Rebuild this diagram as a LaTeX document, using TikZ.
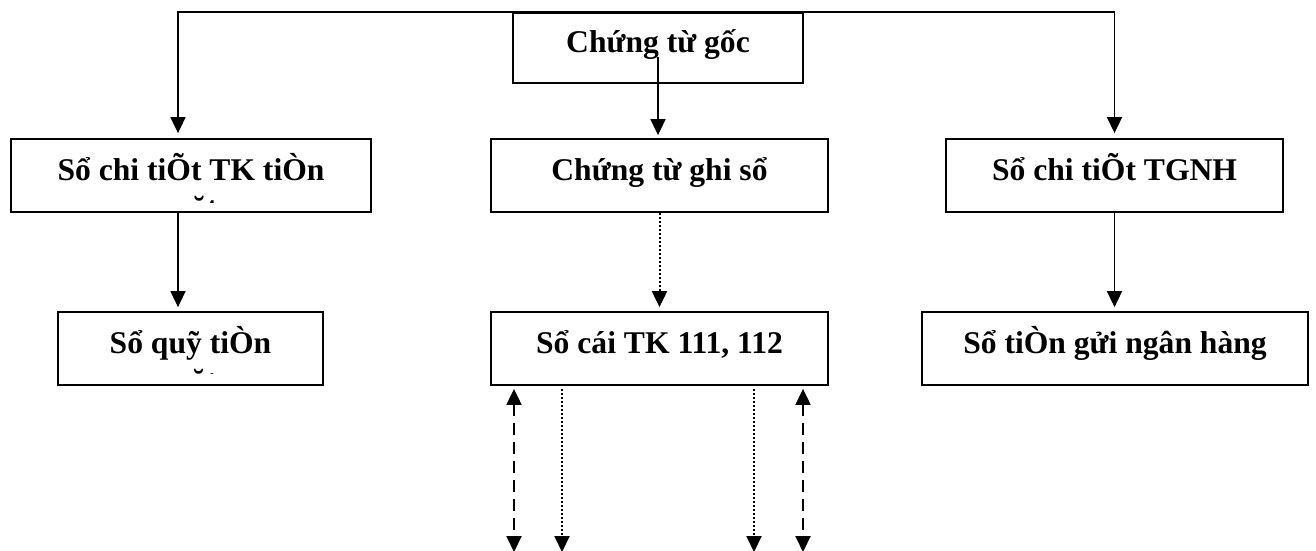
\documentclass[tikz,border=0pt]{standalone}
\usepackage{fontspec}
\setmainfont{Liberation Serif}
\usetikzlibrary{arrows.meta,positioning}

\begin{document}
\begin{tikzpicture}[x=1pt, y=-1pt, >={Triangle[width=15pt,length=16pt]},
  box/.style={draw, line width=1.8pt, inner sep=0pt, minimum height=73pt,
    text height=20pt, text depth=11pt,
    font=\fontsize{31.6}{38}\selectfont\bfseries},
  lbl/.style={anchor=base, inner sep=0pt, font=\fontsize{31.6}{38}\selectfont\bfseries},
  link/.style={->, line width=1.7pt},
  dots/.style={link, line width=2pt, dash pattern=on 2pt off 2pt},
  dashes/.style={<->, line width=2pt, dash pattern=on 12pt off 7pt}]
  \useasboundingbox (0,0) rectangle (1316,551);

  %% Boxes
  \node[box, minimum width=290pt, minimum height=70pt] (goc) at (658,48) {Chứng từ gốc};
  \node[box, minimum width=360pt] (tk)     at (191,175.5)   {Sổ chi tiÕt TK tiÒn};
  \node[box, minimum width=337pt] (ghiso)  at (659.5,175.5) {Chứng từ ghi sổ};
  \node[box, minimum width=337pt] (nh)     at (1114.5,175.5) {Sổ chi tiÕt TGNH};
  \node[box, minimum width=265pt] (quy)    at (190.5,348.5) {Sổ quỹ tiÒn};
  \node[box, minimum width=337pt] (socai)  at (659.5,348.5) {Sổ cái TK 111, 112};
  \node[box, minimum width=386pt] (tiengui) at (1115,348.5) {Sổ tiÒn gửi ngân hàng};

  %% Second lines cut off by the box
  \begin{scope}
    \clip (tk.north west) rectangle (371,202.5);
    \node[lbl] (tkmat) at (191,218) {mặt};
  \end{scope}
  \begin{scope}
    \clip (quy.north west) rectangle (323,373);
    \node[lbl] (quymat) at (190.5,391) {mặt};
  \end{scope}

  %% Row 1
  \draw[link, shorten >=5pt] (goc.north) -| ([xshift=-13pt]tk.north);
  \draw[link, shorten >=5pt] (goc.north) -| (nh.north);
  \draw[link, shorten >=3pt] ([yshift=-9pt]goc.center) -- (goc.center |- ghiso.north);

  %% Row 2
  \draw[link, shorten >=4pt] ([xshift=-13pt]tk.south) -- ([xshift=-13pt]tk.south |- quy.north);
  \draw[dots, shorten >=4pt] (ghiso.south) -- (socai.north);
  \draw[link, shorten >=4pt] (nh.south) -- (nh.south |- tiengui.north);

  %% Below the ledger
  \coordinate (out1) at (514,552);
  \coordinate (out2) at (562,552);
  \coordinate (out3) at (754,552);
  \coordinate (out4) at (803,552);
  \draw[dashes] ([xshift=-145.5pt, yshift=-3pt]socai.south) -- (out1);
  \draw[dots]   ([xshift=-97.5pt, yshift=-3pt]socai.south) -- (out2);
  \draw[dots]   ([xshift=94.5pt, yshift=-3pt]socai.south) -- (out3);
  \draw[dashes] ([xshift=143.5pt, yshift=-3pt]socai.south) -- (out4);
\end{tikzpicture}
\end{document}
